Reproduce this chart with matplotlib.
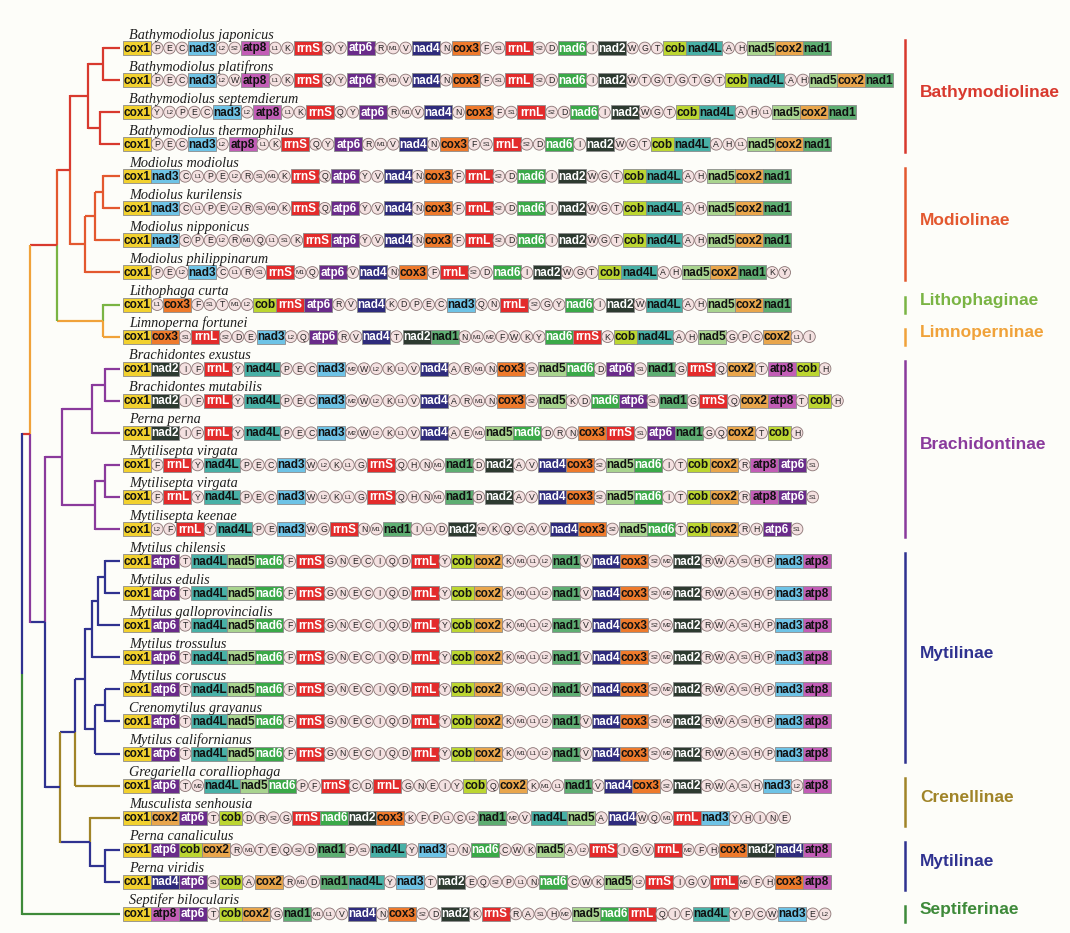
import matplotlib.pyplot as plt
from matplotlib.patches import Rectangle, Circle

species = [
    "Bathymodiolus japonicus", "Bathymodiolus platifrons", "Bathymodiolus septemdierum",
    "Bathymodiolus thermophilus", "Modiolus modiolus", "Modiolus kurilensis",
    "Modiolus nipponicus", "Modiolus philippinarum", "Lithophaga curta",
    "Limnoperna fortunei", "Brachidontes exustus", "Brachidontes mutabilis",
    "Perna perna", "Mytilisepta virgata", "Mytilisepta virgata", "Mytilisepta keenae",
    "Mytilus chilensis", "Mytilus edulis", "Mytilus galloprovincialis", "Mytilus trossulus",
    "Mytilus coruscus", "Crenomytilus grayanus", "Mytilus californianus",
    "Gregariella coralliophaga", "Musculista senhousia", "Perna canaliculus",
    "Perna viridis", "Septifer bilocularis",
]

mytilus = "cox1 atp6 T nad4L nad5 nad6 F rrnS G N E C I Q D rrnL Y cob cox2 K M1 L1 L2 nad1 V nad4 cox3 S2 M2 nad2 R W A S1 H P nad3 atp8"
orders = [
    "cox1 P E C nad3 L2 S2 atp8 L1 K rrnS Q Y atp6 R M1 V nad4 N cox3 F S1 rrnL S2 D nad6 I nad2 W G T cob nad4L A H nad5 cox2 nad1",
    "cox1 P E C nad3 L2 W atp8 L1 K rrnS Q Y atp6 R M1 V nad4 N cox3 F S1 rrnL S2 D nad6 I nad2 W T G T G T G T cob nad4L A H nad5 cox2 nad1",
    "cox1 Y L2 P E C nad3 L2 atp8 L1 K rrnS Q Y atp6 R M1 V nad4 N cox3 F S1 rrnL S2 D nad6 I nad2 W G T cob nad4L A H L1 nad5 cox2 nad1",
    "cox1 P E C nad3 L2 atp8 L1 K rrnS Q Y atp6 R M1 V nad4 N cox3 F S1 rrnL S2 D nad6 I nad2 W G T cob nad4L A H L1 nad5 cox2 nad1",
    "cox1 nad3 C L1 P E L2 R S1 M1 K rrnS Q atp6 Y V nad4 N cox3 F rrnL S2 D nad6 I nad2 W G T cob nad4L A H nad5 cox2 nad1",
    "cox1 nad3 C L1 P E L2 R S1 M1 K rrnS Q atp6 Y V nad4 N cox3 F rrnL S2 D nad6 I nad2 W G T cob nad4L A H nad5 cox2 nad1",
    "cox1 nad3 C P E L2 R M1 Q L1 S1 K rrnS atp6 Y V nad4 N cox3 F rrnL S2 D nad6 I nad2 W G T cob nad4L A H nad5 cox2 nad1",
    "cox1 P E L2 nad3 C L1 R S1 rrnS M1 Q atp6 V nad4 N cox3 F rrnL S2 D nad6 I nad2 W G T cob nad4L A H nad5 cox2 nad1 K Y",
    "cox1 L1 cox3 F S1 T M1 L2 cob rrnS atp6 R V nad4 K D P E C nad3 Q N rrnL S2 G Y nad6 I nad2 W nad4L A H nad5 cox2 nad1",
    "cox1 cox3 S1 rrnL S2 D E nad3 L2 Q atp6 R V nad4 T nad2 nad1 N M1 M2 F W K Y nad6 rrnS K cob nad4L A H nad5 G P C cox2 L1 I",
    "cox1 nad2 I F rrnL Y nad4L P E C nad3 M2 W L2 K L1 V nad4 A R M1 N cox3 S2 nad5 nad6 D atp6 S1 nad1 G rrnS Q cox2 T atp8 cob H",
    "cox1 nad2 I F rrnL Y nad4L P E C nad3 M2 W L2 K L1 V nad4 A R M1 N cox3 S2 nad5 K D nad6 atp6 S1 nad1 G rrnS Q cox2 atp8 T cob H",
    "cox1 nad2 I F rrnL Y nad4L P E C nad3 M2 W L2 K L1 V nad4 A E M1 nad5 nad6 D R N cox3 rrnS S1 atp6 nad1 G Q cox2 T cob H",
    "cox1 F rrnL Y nad4L P E C nad3 W L2 K L1 G rrnS Q H N M1 nad1 D nad2 A V nad4 cox3 S2 nad5 nad6 I T cob cox2 R atp8 atp6 S1",
    "cox1 F rrnL Y nad4L P E C nad3 W L2 K L1 G rrnS Q H N M1 nad1 D nad2 A V nad4 cox3 S2 nad5 nad6 I T cob cox2 R atp8 atp6 S1",
    "cox1 L2 F rrnL Y nad4L P E nad3 W G rrnS N M1 nad1 I L1 D nad2 M2 K Q C A V nad4 cox3 S2 nad5 nad6 T cob cox2 R H atp6 S1",
    mytilus, mytilus, mytilus, mytilus, mytilus, mytilus, mytilus,
    "cox1 atp6 T M2 nad4L nad5 nad6 P F rrnS C D rrnL G N E I Y cob Q cox2 K M1 L1 nad1 V nad4 cox3 S2 nad2 R W A S1 H nad3 L2 atp8",
    "cox1 cox2 atp6 T cob D R S2 G rrnS nad6 nad2 cox3 K F P L1 C L2 nad1 M2 V nad4L nad5 A nad4 W Q M1 rrnL nad3 Y H I N E",
    "cox1 atp6 cob cox2 R M1 T E Q S2 D nad1 P S1 nad4L Y nad3 L1 N nad6 C W K nad5 A L2 rrnS I G V rrnL M2 F H cox3 nad2 nad4 atp8",
    "cox1 nad4 atp6 S1 cob A cox2 R M1 D nad1 nad4L Y nad3 T nad2 E Q S2 P L1 N nad6 C W K nad5 L2 rrnS I G V rrnL M2 F H cox3 atp8",
    "cox1 atp8 atp6 T cob cox2 G nad1 M1 L1 V nad4 N cox3 S2 D nad2 K rrnS R A S1 H M2 nad5 nad6 rrnL Q I F nad4L Y P C W nad3 E L2",
]

clades = ["Bathymodiolinae", "Modiolinae", "Lithophaginae", "Limnoperninae",
          "Brachidontinae", "Mytilinae", "Crenellinae", "Mytilinae", "Septiferinae"]
clade_first = [0, 4, 8, 9, 10, 16, 23, 25, 27]
clade_last = [3, 7, 8, 9, 15, 22, 24, 26, 27]

RED = "#d8392e"
ORED = "#e3582f"
LGRN = "#7ab444"
ORG = "#f0a23a"
PUR = "#8a3a9c"
NAVY = "#2f3290"
OLV = "#a08428"
DGRN = "#3e8a3a"
clade_colors = [RED, ORED, LGRN, ORG, PUR, NAVY, OLV, NAVY, DGRN]

gene_colors = {
    "cox1": "#f2d12e", "cox2": "#e9a64c", "cox3": "#ee7a2c",
    "atp6": "#6a2b8a", "atp8": "#c25db6",
    "nad1": "#5eae72", "nad2": "#2d3a30", "nad3": "#6ec3e6",
    "nad4": "#2e2b7c", "nad4L": "#48b0a6", "nad5": "#a9d48f", "nad6": "#3aa948",
    "cob": "#bcd631", "rrnS": "#e32b2b", "rrnL": "#e32b2b",
}
white_text = {"atp6", "nad2", "nad4", "nad6", "rrnS", "rrnL"}

# tree: (node x, children); leaves are row indices
bathy = (88, [(103, [0, 1]), (100, [2, 3])])
modio = (85, [(95, [(103, [4, 5]), 6]), 7])
top = (57, [(70, [bathy, modio]), (103, [8, 9])])
brach = (62, [(92, [(105, [10, 11]), 12]), (95, [(105, [13, 14]), 15])])
myt = (85, [(92, [(98, [(105, [16, 17]), 18]), 19]), (95, [(105, [20, 21]), 22])])
lower = (60, [(75, [myt, 23]), (90, [24, (105, [25, 26])])])
tree = (22, [(30, [top, (45, [brach, lower])]), 27])

leaf_colors = [RED] * 4 + [ORED] * 4 + [LGRN, ORG] + [PUR] * 6 + [NAVY] * 7 + [OLV, OLV, NAVY, NAVY, DGRN]

Y0 = 48
DY = 32.07
X0 = 123
TIP = 120
PITCH = 12.4
LW = 1.6


def row_y(i):
    return Y0 + i * DY


def gene_width(name):
    return {3: 23, 4: 28, 5: 36}[len(name)]


fig = plt.figure(figsize=(10.7, 9.33), dpi=100)
fig.patch.set_facecolor("#fdfdf9")
ax = fig.add_axes([0, 0, 1, 1])
ax.set_xlim(0, 1070)
ax.set_ylim(933, 0)
ax.axis("off")


def draw(node):
    # returns (y, colour of top end, colour of bottom end, x)
    if isinstance(node, int):
        c = leaf_colors[node]
        return row_y(node), c, c, TIP
    x, kids = node
    info = [draw(k) for k in kids]
    top_info, bot_info = info[0], info[-1]
    for y, ct, cb, kx in info:
        c = ct if y < (top_info[0] + bot_info[0]) / 2 else cb
        ax.plot([x, kx], [y, y], color=c, lw=LW, solid_capstyle="butt")
    ymid = (top_info[0] + bot_info[0]) / 2
    c_up = top_info[2]
    c_dn = bot_info[1]
    ax.plot([x, x], [top_info[0] - 0.8, ymid], color=c_up, lw=LW, solid_capstyle="butt")
    ax.plot([x, x], [ymid, bot_info[0] + 0.8], color=c_dn, lw=LW, solid_capstyle="butt")
    return ymid, top_info[1], bot_info[2], x


y_root, c_top, c_bot, x_root = draw(tree)

for i, (name, order) in enumerate(zip(species, orders)):
    y = row_y(i)
    ax.text(129, y - 9.5, name, fontsize=10.3, fontstyle="italic", family="Liberation Serif",
            ha="left", va="baseline", color="#1e1e1e")
    cur = X0
    for item in order.split():
        if item in gene_colors:
            w = gene_width(item)
            ax.add_patch(Rectangle((cur, y - 7), w, 14, facecolor=gene_colors[item],
                                   edgecolor="#8c8c8c", lw=0.6))
            ax.text(cur + w / 2, y + 0.5, item, fontsize=8.5, fontweight="bold",
                    family="Liberation Sans", ha="center", va="center",
                    color="white" if item in white_text else "#111111")
            cur += w
        else:
            ax.add_patch(Circle((cur + PITCH / 2, y), 5.9, facecolor="#f4e1e1",
                                edgecolor="#8a7474", lw=0.6))
            fs = 6.3 if len(item) == 1 else 4.6
            ax.text(cur + PITCH / 2, y + 0.4, item, fontsize=fs, family="Liberation Sans",
                    ha="center", va="center", color="#222222")
            cur += PITCH

for lab, a, b, col in zip(clades, clade_first, clade_last, clade_colors):
    y1, y2 = row_y(a) - 8, row_y(b) + 8
    ax.plot([905, 905], [y1, y2], color=col, lw=1.8)
    ax.text(920, (row_y(a) + row_y(b)) / 2 - 4, lab, fontsize=12.5, fontweight="bold",
            family="Liberation Sans", color=col, ha="left", va="center")

fig.savefig("out.png", dpi=100, facecolor=fig.get_facecolor())
